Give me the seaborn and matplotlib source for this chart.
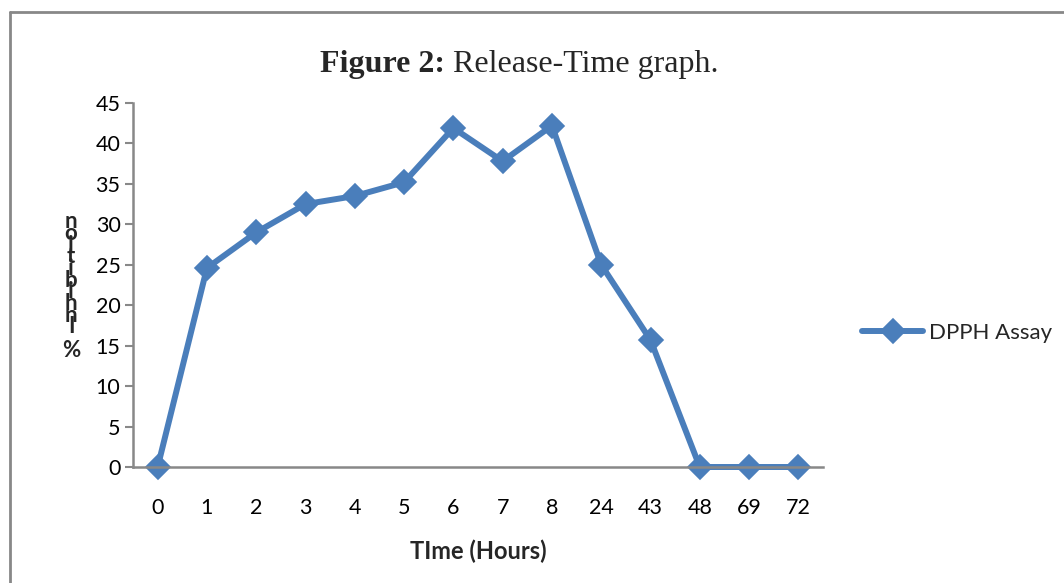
import matplotlib
matplotlib.use("Agg")
import matplotlib.pyplot as plt
import seaborn as sns
import pandas as pd

# Data
time_labels = ["0", "1", "2", "3", "4", "5", "6", "7", "8", "24", "43", "48", "69", "72"]
dpph_values = [0, 24.6, 29.0, 32.5, 33.5, 35.2, 41.9, 37.8, 42.2, 25.0, 15.7, 0, 0, 0]
y_ticks = [0, 5, 10, 15, 20, 25, 30, 35, 40, 45]
series_name = "DPPH Assay"

sns.set_theme(style="white")
plt.rcParams["font.family"] = ["Lato", "DejaVu Sans"]

df = pd.DataFrame({"time": time_labels, "value": dpph_values})

W, H = 1064, 583
fig = plt.figure(figsize=(W / 100, H / 100), dpi=100)
ax = fig.add_axes([133 / W, 1 - 467 / H, (823 - 133) / W, 364 / H])

blue = "#4A7EBB"
gray = "#888888"

sns.pointplot(data=df, x="time", y="value", order=time_labels, ax=ax,
              color=blue, markers="D", markersize=10, linewidth=4.3,
              label=series_name, clip_on=False)

ax.set_xlim(-0.5, len(time_labels) - 0.5)
ax.set_ylim(0, 45)
ax.set_yticks(y_ticks)
ax.set_yticklabels([str(v) for v in y_ticks])

for s in ["top", "right"]:
    ax.spines[s].set_visible(False)
for s in ["left", "bottom"]:
    ax.spines[s].set_color(gray)
    ax.spines[s].set_linewidth(1.8)

ax.tick_params(axis="y", which="major", direction="out", length=6, width=1.5,
               color=gray, labelsize=15.5, labelcolor="black", pad=3, left=True)
ax.tick_params(axis="x", which="major", length=0, labelsize=15.5,
               labelcolor="black", pad=22)
ax.grid(False)

ax.set_xlabel("TIme (Hours)", fontsize=17, fontweight="bold", labelpad=16)
ax.set_ylabel("")

# Stacked y-axis label as in the reference
ylab = "% Inhibition"
fig.text(71 / W, 1 - 286 / H, "\n".join(reversed(list(ylab))), ha="center",
         va="center", fontsize=16, fontweight="bold", linespacing=0.45)

# Title with mixed weights
t1 = fig.text(320 / W, 1 - 72 / H, "Figure 2:", fontsize=23, fontweight="bold",
              family="Liberation Serif", ha="left", va="baseline")
ax.annotate(" Release-Time graph.", xy=(1, 0), xycoords=t1, ha="left",
            va="bottom", fontsize=23, family="Liberation Serif",
            annotation_clip=False)

# Legend
leg = ax.legend(loc="center left", bbox_to_anchor=(862 / W, 1 - 333 / H),
                bbox_transform=fig.transFigure, frameon=False, fontsize=16,
                handlelength=2.75, handletextpad=0.25, borderpad=0,
                borderaxespad=0)

# Outer border (left and top visible)
fig.add_artist(plt.Line2D([10 / W, 10 / W], [0, 1 - 12 / H],
                          transform=fig.transFigure, color=gray, linewidth=2))
fig.add_artist(plt.Line2D([10 / W, 1], [1 - 12 / H, 1 - 12 / H],
                          transform=fig.transFigure, color=gray, linewidth=2))

fig.savefig("out.png", dpi=100)
